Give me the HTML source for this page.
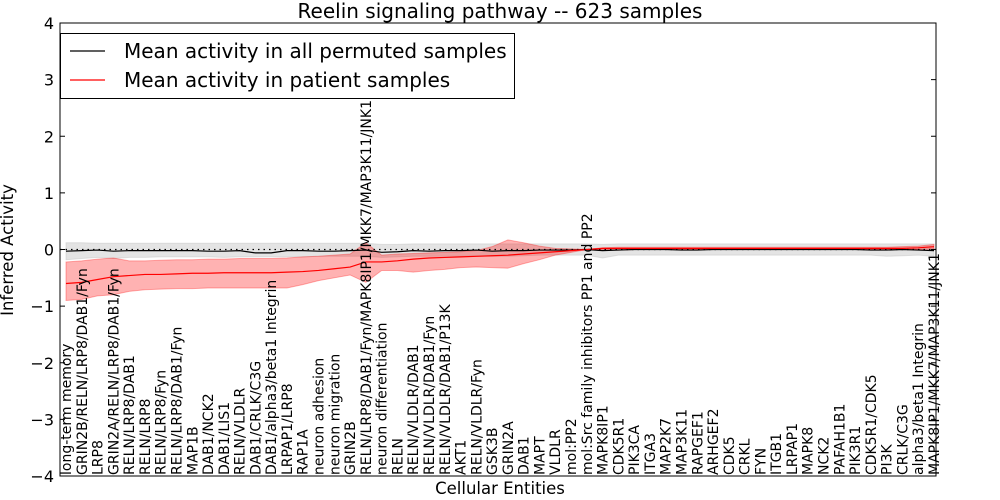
<!DOCTYPE html>
<html><head><meta charset="utf-8"><style>
body{margin:0;background:#fff}
svg{display:block;font-family:"DejaVu Sans","Liberation Sans",sans-serif}
</style></head><body>
<svg id="chart" width="1000" height="500"></svg>
<script>
const categories=["long-term memory","GRIN2B/RELN/LRP8/DAB1/Fyn","LRP8","GRIN2A/RELN/LRP8/DAB1/Fyn","RELN/LRP8/DAB1","RELN/LRP8","RELN/LRP8/Fyn","RELN/LRP8/DAB1/Fyn","MAP1B","DAB1/NCK2","DAB1/LIS1","RELN/VLDLR","DAB1/CRLK/C3G","DAB1/alpha3/beta1 Integrin","LRPAP1/LRP8","RAP1A","neuron adhesion","neuron migration","GRIN2B","RELN/LRP8/DAB1/Fyn/MAPK8IP1/MKK7/MAP3K11/JNK1","neuron differentiation","RELN","RELN/VLDLR/DAB1","RELN/VLDLR/DAB1/Fyn","RELN/VLDLR/DAB1/P13K","AKT1","RELN/VLDLR/Fyn","GSK3B","GRIN2A","DAB1","MAPT","VLDLR","mol:PP2","mol:Src family inhibitors PP1 and PP2","MAPK8IP1","CDK5R1","PIK3CA","ITGA3","MAP2K7","MAP3K11","RAPGEF1","ARHGEF2","CDK5","CRKL","FYN","ITGB1","LRPAP1","MAPK8","NCK2","PAFAH1B1","PIK3R1","CDK5R1/CDK5","PI3K","CRLK/C3G","alpha3/beta1 Integrin","MAPK8IP1/MKK7/MAP3K11/JNK1"];
const patientMean=[-0.6,-0.58,-0.53,-0.48,-0.46,-0.44,-0.44,-0.43,-0.42,-0.42,-0.41,-0.41,-0.41,-0.41,-0.40,-0.39,-0.37,-0.34,-0.31,-0.22,-0.22,-0.2,-0.17,-0.15,-0.14,-0.13,-0.12,-0.11,-0.10,-0.08,-0.06,-0.04,-0.02,0.0,0.02,0.02,0.02,0.02,0.02,0.02,0.02,0.02,0.02,0.02,0.02,0.02,0.02,0.02,0.02,0.02,0.02,0.02,0.02,0.02,0.03,0.05];
const patientLow=[-0.9,-0.88,-0.82,-0.8,-0.74,-0.71,-0.7,-0.69,-0.69,-0.68,-0.68,-0.68,-0.68,-0.68,-0.68,-0.62,-0.55,-0.5,-0.45,-0.58,-0.37,-0.37,-0.4,-0.37,-0.35,-0.32,-0.31,-0.32,-0.33,-0.25,-0.18,-0.1,-0.05,0.0,0.0,-0.01,0.0,0.0,0.0,0.0,0.0,0.0,0.0,0.0,0.0,0.0,0.0,0.0,0.0,0.0,0.0,0.0,0.0,0.0,0.0,0.01];
const patientHigh=[-0.22,-0.2,-0.17,-0.15,-0.2,-0.2,-0.19,-0.18,-0.18,-0.17,-0.17,-0.16,-0.16,-0.16,-0.15,-0.13,-0.12,-0.1,-0.08,0.12,-0.1,-0.08,-0.07,-0.06,-0.05,-0.04,-0.02,0.05,0.17,0.12,0.06,0.02,0.01,0.0,0.03,0.04,0.04,0.04,0.04,0.04,0.04,0.04,0.04,0.04,0.04,0.04,0.04,0.04,0.04,0.04,0.04,0.04,0.04,0.05,0.06,0.09];
const permMean=[-0.03,-0.02,-0.01,-0.03,-0.02,-0.02,-0.02,-0.02,-0.02,-0.03,-0.03,-0.02,-0.06,-0.06,-0.02,-0.02,-0.03,-0.03,-0.02,-0.01,-0.05,-0.04,-0.02,-0.03,-0.02,-0.02,-0.01,-0.03,-0.02,-0.02,-0.01,-0.01,-0.01,0.0,-0.02,-0.01,0.0,0.0,0.0,-0.01,-0.01,0.0,0.0,0.0,0.0,0.0,0.0,0.0,0.0,0.0,0.0,-0.01,-0.01,0.0,-0.01,-0.02];
const permLow=[-0.18,-0.16,-0.14,-0.16,-0.14,-0.14,-0.13,-0.13,-0.13,-0.13,-0.14,-0.13,-0.13,-0.13,-0.13,-0.13,-0.12,-0.12,-0.12,-0.12,-0.14,-0.13,-0.12,-0.12,-0.12,-0.12,-0.11,-0.12,-0.12,-0.11,-0.1,-0.1,-0.1,-0.1,-0.15,-0.1,-0.1,-0.1,-0.1,-0.1,-0.1,-0.1,-0.1,-0.1,-0.1,-0.1,-0.1,-0.1,-0.1,-0.1,-0.1,-0.1,-0.12,-0.11,-0.1,-0.12];
const permHigh=[0.12,0.12,0.11,0.11,0.11,0.11,0.11,0.11,0.11,0.11,0.11,0.11,0.11,0.11,0.11,0.11,0.11,0.11,0.11,0.11,0.09,0.09,0.1,0.1,0.1,0.1,0.1,0.1,0.1,0.1,0.1,0.1,0.1,0.1,0.09,0.1,0.1,0.1,0.1,0.1,0.1,0.1,0.1,0.1,0.1,0.1,0.1,0.1,0.1,0.1,0.1,0.1,0.1,0.1,0.1,0.1];
const yTicks=[-4,-3,-2,-1,0,1,2,3,4];

const NS="http://www.w3.org/2000/svg";
const svg=document.getElementById('chart');
const L=60,R=936,T=23,B=476;
const x=i=>66+i*(934-66)/(categories.length-1);
const y=v=>B-(v+4)/8*(B-T);
function mk(tag,attrs,parent){const e=document.createElementNS(NS,tag);for(const k in attrs)e.setAttribute(k,attrs[k]);(parent||svg).appendChild(e);return e;}
function band(lo,hi,fill,op,name){
  let d='M'+lo.map((v,i)=>x(i)+','+y(v)).join('L');
  for(let i=hi.length-1;i>=0;i--)d+='L'+x(i)+','+y(hi[i]);
  const p=mk('path',{d:d+'Z',fill:fill,'fill-opacity':op,stroke:fill,'stroke-opacity':op,'stroke-width':1});
  
  
}
function line(vals,col,name){
  const p=mk('path',{d:'M'+vals.map((v,i)=>x(i)+','+y(v)).join('L'),fill:'none',stroke:col,'stroke-width':1.2});
  
  
}
band(permLow,permHigh,'#bbbbbb',0.4,'permuted-band');
band(patientLow,patientHigh,'#ff0000',0.3,'patient-band');
const zl=mk('line',{x1:L,x2:R,y1:y(0),y2:y(0),stroke:'#000','stroke-dasharray':'1.5,4','stroke-width':1.2});


line(permMean,'#000','permuted-mean-line');
line(patientMean,'#ff0000','patient-mean-line');
const fr=mk('rect',{x:L,y:T,width:R-L,height:B-T,fill:'none',stroke:'#000','stroke-width':1});


yTicks.forEach(t=>{
  const yy=y(t);
  const g=mk('g',{});
  
  
  mk('line',{x1:L,x2:L+5,y1:yy,y2:yy,stroke:'#000'},g);
  mk('line',{x1:R-5,x2:R,y1:yy,y2:yy,stroke:'#000'},g);
  const tx=mk('text',{x:L-6,y:yy+6,'text-anchor':'end','font-size':16},g);
  tx.textContent=(t<0?'\u2212'+(-t):t);
});
categories.forEach((c,i)=>{
  const xx=x(i);
  const g=mk('g',{});
  
  
  const tx=mk('text',{transform:`translate(${xx+5},475) rotate(-90)`,'font-size':14},g);
  tx.textContent=c;
});
const ti=mk('text',{x:500,y:18,'text-anchor':'middle','font-size':20});
ti.textContent='Reelin signaling pathway -- 623 samples';


const xl=mk('text',{x:500,y:494,'text-anchor':'middle','font-size':16.5});
xl.textContent='Cellular Entities';


const yl=mk('text',{transform:'translate(13,250) rotate(-90)','text-anchor':'middle','font-size':16.5});
yl.textContent='Inferred Activity';


const lg=mk('g',{});


mk('rect',{x:60.5,y:33.5,width:454,height:65,fill:'#fff',stroke:'#000'},lg);
[['Mean activity in all permuted samples','#000',51],['Mean activity in patient samples','#ff0000',80]].forEach(([t,c,yy])=>{
  const e=mk('g',{},lg);
  
  
  mk('line',{x1:70,x2:105,y1:yy,y2:yy,stroke:c,'stroke-width':1.2},e);
  const tx=mk('text',{x:124,y:yy+7,'font-size':20},e);tx.textContent=t;
});
</script>
</body></html>
